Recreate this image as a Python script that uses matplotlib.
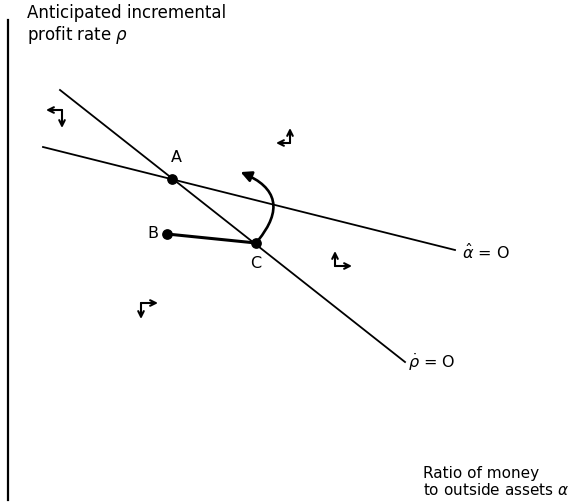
import matplotlib
matplotlib.use("Agg")
import matplotlib.pyplot as plt
from matplotlib.patches import FancyArrowPatch

# picture coordinates (pixels, y downward)
rho_line_x = [60, 405]
rho_line_y = [90, 362]
alpha_line_x = [43, 455]
alpha_line_y = [147, 250]

point_names = ["A", "B", "C"]
point_x = [172, 167, 256]
point_y = [179, 234, 243]
label_x = [176, 153, 256]
label_y = [157, 234, 263]

# small direction arrows: corner, horizontal tip, vertical tip
corner_x = [62, 290, 335, 141]
corner_y = [110, 143, 266, 303]
horiz_tip_x = [46, 276, 352, 158]
vert_tip_y = [128, 128, 251, 319]

fig = plt.figure(figsize=(5.83, 5.04), dpi=100)
ax = fig.add_axes([0, 0, 1, 1])
ax.set_xlim(0, 583)
ax.set_ylim(504, 0)
ax.axis("off")

# vertical axis
ax.plot([8, 8], [20, 500], color="black", lw=1.6)

ax.plot(rho_line_x, rho_line_y, color="black", lw=1.3)
ax.plot(alpha_line_x, alpha_line_y, color="black", lw=1.3)

# path B -> C
ax.plot([point_x[1], point_x[2]], [point_y[1], point_y[2]], color="black", lw=2.2)
ax.scatter(point_x, point_y, s=45, color="black", zorder=5)
for n, lx, ly in zip(point_names, label_x, label_y):
    ax.text(lx, ly, n, fontsize=11.5, ha="center", va="center")

# curved arrow from C
arc = FancyArrowPatch((point_x[2], point_y[2]), (238, 171),
                      connectionstyle="arc3,rad=0.7", arrowstyle="-|>",
                      mutation_scale=16, lw=1.9, color="black")
ax.add_patch(arc)

for cx, cy, hx, vy in zip(corner_x, corner_y, horiz_tip_x, vert_tip_y):
    ax.annotate("", xy=(hx, cy), xytext=(cx, cy),
                arrowprops=dict(arrowstyle="->", lw=1.5, color="black",
                                shrinkA=0, shrinkB=0, mutation_scale=10))
    ax.annotate("", xy=(cx, vy), xytext=(cx, cy),
                arrowprops=dict(arrowstyle="->", lw=1.5, color="black",
                                shrinkA=0, shrinkB=0, mutation_scale=10))

ax.text(27, 4, "Anticipated incremental\nprofit rate $\\rho$", fontsize=12,
        ha="left", va="top", linespacing=1.1)
ax.text(462, 252, "$\\hat{\\alpha}$ = O", fontsize=11.5, ha="left", va="center")
ax.text(408, 362, "$\\dot{\\rho}$ = O", fontsize=11.5, ha="left", va="center")
ax.text(423, 498, "Ratio of money\nto outside assets $\\alpha$", fontsize=11,
        ha="left", va="bottom", linespacing=1.1)

fig.savefig("out.png", dpi=100)
